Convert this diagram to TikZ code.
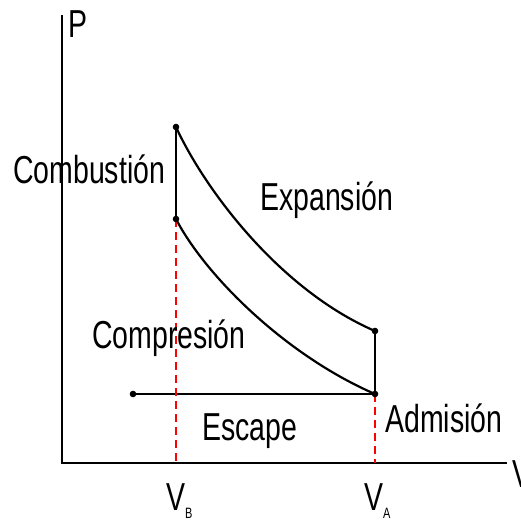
\documentclass[tikz,border=0pt]{standalone}
\usepackage{fontspec}
\setmainfont{Liberation Sans}[FakeStretch=0.73]
\newcommand{\lblsize}{\fontsize{39}{39}\selectfont}
\newcommand{\subsize}{\fontsize{15}{15}\selectfont}
\begin{document}
\begin{tikzpicture}[x=1pt,y=-1pt,
	lbl/.style={inner sep=0pt,anchor=base west,font=\lblsize},
	cycleline/.style={line width=2.2pt},
	guide/.style={red,line width=2.2pt,dash pattern=on 8pt off 5pt}]
	\useasboundingbox (0,0) rectangle (521,523);
	\path
	(62,15) coordinate (O')
	(62,463) coordinate (O)
	(507,463) coordinate (X)
	(176,127) coordinate (C)
	(176,219) coordinate (B)
	(375,331) coordinate (D)
	(375,394) coordinate (A)
	(133,394) coordinate (E)
	(176,463) coordinate (B0)
	(375,463) coordinate (A0);
	% axes
	\draw[line width=2.8pt] (O')--(O)--(X);
	% cycle
	\draw[cycleline] (B)--(C) (D)--(A) (E)--(A);
	\draw[cycleline] (C) .. controls (205,190) and (280,290) .. (D);
	\draw[cycleline] (B) .. controls (205,275) and (285,355) .. (A);
	\draw[guide] (B)--(B0) (A)--(A0);
	\foreach \x in {C, B, D, A, E}
	\fill (\x) circle(3.3);
	% labels
	\node[lbl] (p) at (68,37) {P};
	\node[lbl] (v) at (512,487) {V};
	\node[lbl] (comb) at (13,183) {Combustión};
	\node[lbl] (exp) at (260,210) {Expansión};
	\node[lbl] (comp) at (92,348) {Compresión};
	\node[lbl] (esc) at (202,440) {Escape};
	\node[lbl] (adm) at (385,432) {Admisión};
	\node[lbl] (vb) at (166,510) {V\raisebox{-8pt}{\subsize B}};
	\node[lbl] (va) at (364,510) {V\raisebox{-8pt}{\subsize A}};
\end{tikzpicture}
\end{document}
